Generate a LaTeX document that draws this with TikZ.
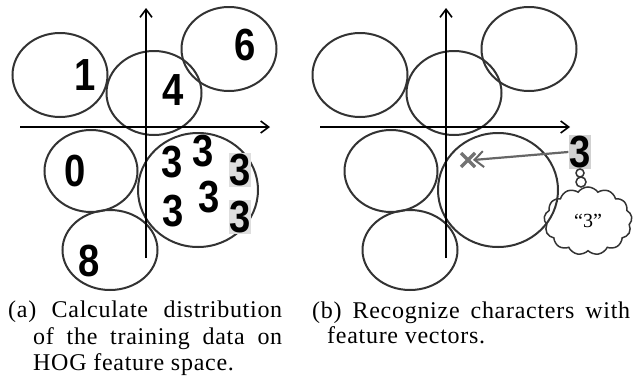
\documentclass[tikz,border=0pt]{standalone}
\usepackage{fontspec}
\setmainfont{Liberation Serif}
\setsansfont{Liberation Sans}
\newfontfamily\capfont[LetterSpace=3]{Liberation Serif}
\usetikzlibrary{shapes,arrows.meta,positioning}

\begin{document}
\begin{tikzpicture}[
    x=1pt, y=-1pt,
    blob/.style={
        ellipse, draw=black!80,
        line width=2pt,
        inner sep=0pt
    },
    axis/.style={
        line width=1.8pt,
        -{Straight Barb[length=8pt,width=12pt,line width=1.6pt]}
    },
    digit/.style={
        font=\fontsize{45}{45}\selectfont\sffamily\bfseries,
        inner sep=1pt, xscale=0.85
    },
    shaded/.style={digit, fill=black!13},
    caption/.style={
        font=\fontsize{24}{26}\selectfont\capfont,
        anchor=base west, inner sep=0pt
    }
]
\useasboundingbox (0,0) rectangle (634,378);

% clusters and axes, (a) and (b)
\foreach \dx/\p in {0/a,300/b}{
\begin{scope}[xshift=\dx]
    \node[blob, minimum width=95, minimum height=84] (\p1) at (60,75) {};
    \node[blob, minimum width=95, minimum height=84] (\p4) at (154,93) {};
    \node[blob, minimum width=95, minimum height=84] (\p6) at (229,49) {};
    \node[blob, minimum width=93, minimum height=82] (\p0) at (91,171) {};
    \node[blob, minimum width=95, minimum height=80] (\p8) at (110,250) {};
    \node[blob, minimum width=120, minimum height=114] (\p3) at (198,190) {};
    \coordinate (\p xl) at (20,127);
    \coordinate (\p xr) at (270,127);
    \coordinate (\p yb) at (146,258);
    \coordinate (\p yt) at (146,8);
    \draw[axis] (\p xl) -- (\p xr);
    \draw[axis] (\p yb) -- (\p yt);
\end{scope}
}

% training samples
\node[digit] (d1) at (85,75) {1};
\node[digit] (d4) at (173,90) {4};
\node[digit] (d6) at (245,45) {6};
\node[digit] (d0) at (75,171) {0};
\node[digit] (d8) at (89,261) {8};
\node[digit] (t1) at (172,162) {3};
\node[digit] (t2) at (203,151) {3};
\node[shaded] (t3) at (240,170) {3};
\node[digit] (t4) at (173,211) {3};
\node[digit] (t5) at (209,197) {3};
\node[shaded] (t6) at (240,217) {3};

% query
\node[shaded, fill=black!18] (q) at (580,152) {3};
\coordinate (hit) at (468,160);
\draw[black!55, line width=3.5pt] ([shift={(-7,-7)}]hit) -- ([shift={(7,7)}]hit);
\draw[black!55, line width=3.5pt] ([shift={(-7,7)}]hit) -- ([shift={(7,-7)}]hit);
\draw[black!60, line width=2.2pt,
    -{Straight Barb[length=9pt,width=16pt,line width=2pt]}]
    (q.west) -- ([xshift=5]hit);

% thought bubble
\node[circle, draw=black!80, line width=1.5pt, minimum size=8, inner sep=0pt] (s1) at (580,173) {};
\node[circle, draw=black!80, line width=1.5pt, minimum size=10, inner sep=0pt] (s2) at (581,182) {};
\node[cloud, cloud puffs=13, cloud puff arc=110, draw=black!80, line width=1.5pt,
    minimum width=88, minimum height=68, inner sep=0pt,
    font=\fontsize{20}{20}\selectfont] (c) at (588,221) {``3''};

% captions
\node[caption] (ca1) at (8,317) {\makebox[274pt][s]{(a) Calculate distribution}};
\node[caption] (ca2) at (33,344) {\makebox[249pt][s]{of the training data on}};
\node[caption] (ca3) at (33,370) {HOG feature space.};
\node[caption] (cb1) at (312,318) {\makebox[318pt][s]{(b) Recognize characters with}};
\node[caption] (cb2) at (327,343) {feature vectors.};
\end{tikzpicture}
\end{document}
